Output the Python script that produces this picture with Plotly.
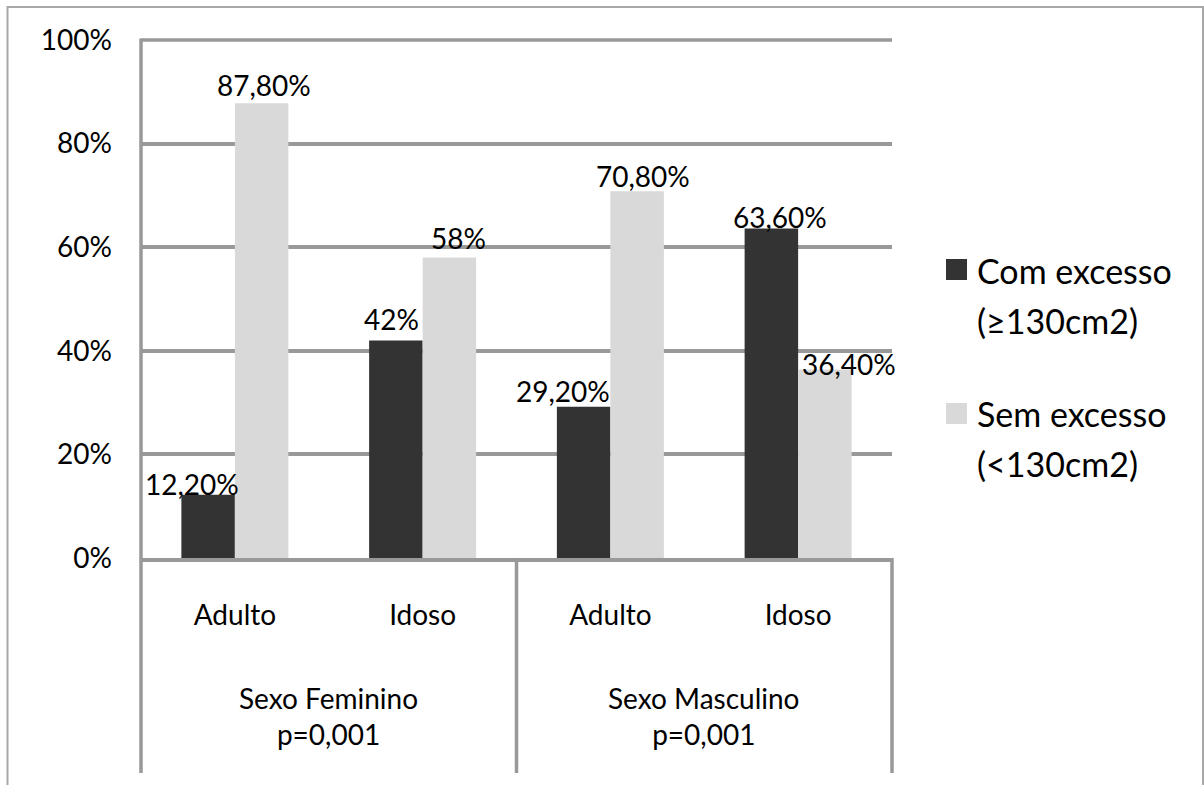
import plotly.graph_objects as go

# Data
subgroups = ["Adulto", "Idoso", "Adulto", "Idoso"]
groups = ["Sexo Feminino<br>p=0,001", "Sexo Masculino<br>p=0,001"]
com_excesso = [12.2, 42.0, 29.2, 63.6]
sem_excesso = [87.8, 58.0, 70.8, 36.4]
series_names = [("Com excesso", "(≥130cm2)"), ("Sem excesso", "(<130cm2)")]
y_ticks = [0, 20, 40, 60, 80, 100]

# Styling
DARK = "#333333"
LIGHT = "#d9d9d9"
GRID = "#999999"
LINE_W = 3.5
TEXT = "#000000"
FONT = "Lato"
W_PX, H_PX = 1204, 785
L, R, T, B = 141, 312, 40, 227
PLOT_W = W_PX - L - R
PLOT_H = H_PX - T - B
BAR_W = 0.285

# label nudges (px) to keep neighbouring value labels apart
com_nudge = [(-16, 11), (-4, 21), (-21, 16), (9, 12)]
sem_nudge = [(2, 18), (9, 20), (6, 15), (24, 5)]


def px_x(x):
    return (x - L) / PLOT_W


def px_y(y):
    return (H_PX - B - y) / PLOT_H


def fmt(v):
    if float(v).is_integer():
        return f"{int(v)}%"
    return f"{v:.2f}".replace(".", ",") + "%"


idx = list(range(len(subgroups)))

fig = go.Figure()
fig.add_trace(go.Bar(x=idx, y=com_excesso, width=BAR_W, offset=-BAR_W,
                     marker=dict(color=DARK, line=dict(width=0)),
                     name=" ".join(series_names[0]), showlegend=False))
fig.add_trace(go.Bar(x=idx, y=sem_excesso, width=BAR_W, offset=0,
                     marker=dict(color=LIGHT, line=dict(width=0)),
                     name=" ".join(series_names[1]), showlegend=False))

annotations = []
for i in idx:
    for vals, nudge, off in ((com_excesso, com_nudge, -BAR_W / 2),
                             (sem_excesso, sem_nudge, BAR_W / 2)):
        annotations.append(dict(
            x=i + off, y=vals[i], xref="x", yref="y", text=fmt(vals[i]),
            showarrow=False, xanchor="center", yanchor="middle",
            xshift=nudge[i][0], yshift=nudge[i][1],
            font=dict(family=FONT, size=28, color=TEXT)))

# group labels under the categories
for g, label in enumerate(groups):
    annotations.append(dict(
        x=px_x(L + PLOT_W * (0.25 + 0.5 * g)), y=px_y(716), xref="paper", yref="paper",
        text=label, showarrow=False, xanchor="center", yanchor="middle",
        font=dict(family=FONT, size=28, color=TEXT)))

# legend
legend_rows = [(270, 320), (413, 463)]
for (l1, l2), (y1, y2) in zip(series_names, legend_rows):
    for txt, yy in ((l1, y1), (l2, y2)):
        annotations.append(dict(
            x=px_x(975), y=px_y(yy), xref="paper", yref="paper", text=txt,
            showarrow=False, xanchor="left", yanchor="middle",
            font=dict(family=FONT, size=34, color=TEXT)))

shapes = []
for color, top in ((DARK, 259), (LIGHT, 403)):
    shapes.append(dict(type="rect", xref="paper", yref="paper",
                       x0=px_x(946), x1=px_x(967), y0=px_y(top), y1=px_y(top + 21),
                       fillcolor=color, line=dict(width=0)))

# top gridline at the upper edge of the plot area (not clipped)
shapes.append(dict(type="line", xref="paper", yref="paper",
                   x0=0, x1=1, y0=1, y1=1,
                   line=dict(color=GRID, width=LINE_W), layer="below"))

# value axis line, continued down through the category labels
shapes.append(dict(type="line", xref="paper", yref="paper",
                   x0=0, x1=0, y0=px_y(T - 1.5), y1=px_y(773),
                   line=dict(color=GRID, width=LINE_W)))
# group separators below the axis
for xp in (0.5, 1.0):
    shapes.append(dict(type="line", xref="paper", yref="paper",
                       x0=xp, x1=xp, y0=0, y1=px_y(773),
                       line=dict(color=GRID, width=LINE_W)))

# outer frame
shapes.append(dict(type="rect", xref="paper", yref="paper",
                   x0=px_x(7.5), x1=px_x(1203), y0=px_y(7), y1=px_y(800),
                   line=dict(color="#a8a8a8", width=2), fillcolor="rgba(0,0,0,0)",
                   layer="below"))

fig.update_layout(
    width=W_PX, height=H_PX,
    margin=dict(l=L, r=R, t=T, b=B, pad=0),
    paper_bgcolor="white", plot_bgcolor="white",
    barmode="overlay",
    font=dict(family=FONT, size=28, color=TEXT),
    annotations=annotations, shapes=shapes,
    xaxis=dict(range=[-0.5, 3.5], tickvals=idx, ticktext=subgroups,
               showgrid=False, zeroline=False, showline=True, linecolor=GRID,
               linewidth=LINE_W, ticks="", ticklabelstandoff=30,
               tickfont=dict(family=FONT, size=28, color=TEXT), fixedrange=True),
    yaxis=dict(range=[0, 100], tickvals=y_ticks,
               ticktext=[f"{v}%" for v in y_ticks],
               showgrid=True, gridcolor=GRID, gridwidth=LINE_W, zeroline=False,
               showline=False, ticks="", ticklabelstandoff=28,
               tickfont=dict(family=FONT, size=28, color=TEXT), fixedrange=True),
)

fig.write_html("out.html")
